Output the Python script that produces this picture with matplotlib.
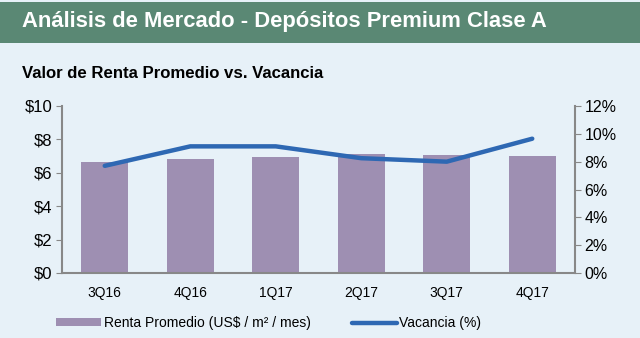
import numpy as np
import matplotlib.pyplot as plt
from matplotlib.patches import Rectangle

plt.rcParams['font.family'] = ['Liberation Sans', 'DejaVu Sans']

quarters = ["3Q16", "4Q16", "1Q17", "2Q17", "3Q17", "4Q17"]
renta = [6.65, 6.85, 6.95, 7.15, 7.05, 6.98]
vacancia = [7.7, 9.1, 9.1, 8.25, 8.0, 9.65]

bg = "#e7f1f8"
fig = plt.figure(figsize=(6.4, 3.38), dpi=100, facecolor=bg)

# green header band
fig.patches.append(Rectangle((0, 1 - 43 / 338), 1, 41 / 338, transform=fig.transFigure,
                             facecolor="#5a8874", edgecolor="none", zorder=0))
fig.text(22 / 640, 1 - 22 / 338, "Análisis de Mercado - Depósitos Premium Clase A",
         color="white", fontsize=15.8, fontweight="bold", va="center", ha="left")
fig.text(22 / 640, 1 - 73 / 338, "Valor de Renta Promedio vs. Vacancia",
         color="black", fontsize=12.1, fontweight="bold", va="center", ha="left")

ax = fig.add_axes([62 / 640, 65 / 338, 513 / 640, 167 / 338])
ax.set_facecolor(bg)
x = np.arange(len(quarters))
bars = ax.bar(x, renta, width=0.55, color="#9e8fb2", label="Renta Promedio (US$ / m² / mes)")
ax.set_xlim(-0.5, 5.5)
ax.set_ylim(0, 10)
ax.set_yticks(range(0, 11, 2))
ax.set_yticklabels([f"${v}" for v in range(0, 11, 2)])
ax.set_xticks(x)
ax.set_xticklabels(quarters)
ax.tick_params(axis="x", length=0, pad=9, labelsize=10)
ax.tick_params(axis="y", length=4, color="#888888", labelsize=12, pad=3)
for s in ["top", "right"]:
    ax.spines[s].set_visible(False)
for s in ["left", "bottom"]:
    ax.spines[s].set_color("#888888")
    ax.spines[s].set_linewidth(1.5)

ax2 = ax.twinx()
line, = ax2.plot(x, vacancia, color="#2e68b3", lw=3.2, solid_capstyle="round",
                 label="Vacancia (%)")
ax2.set_ylim(0, 12)
ax2.set_yticks(range(0, 13, 2))
ax2.set_yticklabels([f"{v}%" for v in range(0, 13, 2)])
ax2.tick_params(axis="y", length=4, color="#888888", labelsize=11.5, pad=3)
for s in ["top", "left", "bottom"]:
    ax2.spines[s].set_visible(False)
ax2.spines["right"].set_color("#888888")
ax2.spines["right"].set_linewidth(1.5)

fig.legend([bars, line], [bars.get_label(), line.get_label()], ncol=2, frameon=False,
           loc="center", bbox_to_anchor=(0.42, 1 - 323 / 338), fontsize=10,
           handlelength=3.2, handleheight=0.5, handletextpad=0.2, columnspacing=3.0)

fig.savefig("out.png", dpi=100, facecolor=bg)
